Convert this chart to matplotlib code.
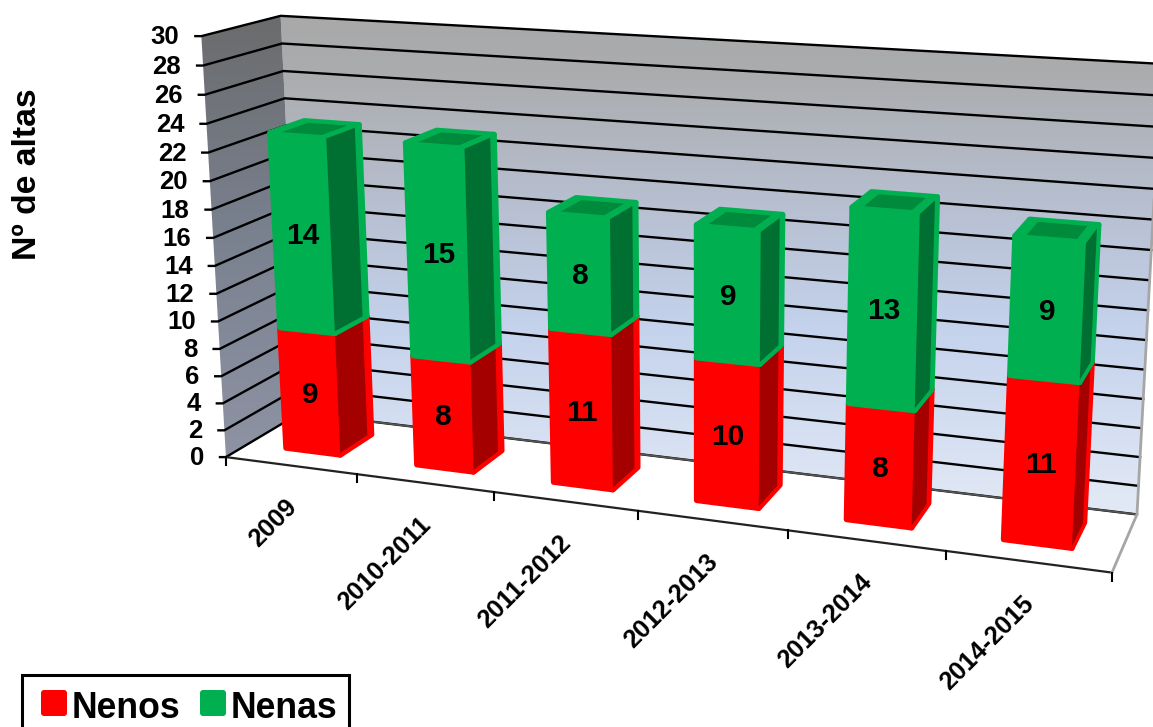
import numpy as np
import matplotlib
matplotlib.use("Agg")
import matplotlib.pyplot as plt
from matplotlib.colors import LinearSegmentedColormap
from matplotlib.patches import Polygon, FancyBboxPatch

plt.rcParams["font.family"] = ["Liberation Sans", "DejaVu Sans"]
plt.rcParams["font.weight"] = "bold"

categories = ["2009", "2010-2011", "2011-2012", "2012-2013", "2013-2014", "2014-2015"]
nenos = [9, 8, 11, 10, 8, 11]
nenas = [14, 15, 8, 9, 13, 9]
y_ticks = list(range(0, 31, 2))

RED, RED_DARK = "#ff0000", "#a50000"
GREEN, GREEN_DARK, GREEN_TOP = "#00b050", "#006f32", "#008a3c"

# box corners of the 3d chart in pixels: (category, depth, value) -> (px, py)
box_corners = [
    ((0, 0, 0), (226, 457)), ((0, 0, 30), (201, 36)),
    ((0, 1, 0), (300, 413)), ((0, 1, 30), (281, 16)),
    ((6, 1, 0), (1137, 515)), ((6, 1, 30), (1161, 63)),
    ((6, 0, 0), (1112, 572)), ((6, 0, 30), (1137, 92)),
]

# fit the perspective camera to those corners
A, b = [], []
for (X, Y, Z), (u, v) in box_corners:
    A.append([X, Y, Z, 1, 0, 0, 0, 0, -u * X, -u * Y, -u * Z])
    A.append([0, 0, 0, 0, X, Y, Z, 1, -v * X, -v * Y, -v * Z])
    b += [u, v]
cam = np.append(np.linalg.lstsq(np.array(A, float), np.array(b, float), rcond=None)[0], 1).reshape(3, 4)


def proj(x, d, v):
    p = cam @ np.array([x, d, v, 1.0])
    return p[0] / p[2], p[1] / p[2]


fig = plt.figure(figsize=(11.53, 7.27), dpi=100)
ax = fig.add_axes([0, 0, 1, 1])


def gradient(poly, stops):
    cmap = LinearSegmentedColormap.from_list("g", stops)
    im = ax.imshow(np.linspace(0, 1, 256).reshape(-1, 1), cmap=cmap, extent=(0, 1153, 727, 0),
                   aspect="auto", zorder=1)
    im.set_clip_path(Polygon(poly, transform=ax.transData))


# walls
back = [proj(0, 1, 0), proj(0, 1, 30), proj(6, 1, 30), proj(6, 1, 0)]
left = [proj(0, 0, 0), proj(0, 0, 30), proj(0, 1, 30), proj(0, 1, 0)]
gradient(back, [(0, "#a8a8a8"), (0.1, "#abacae"), (0.28, "#b7bfd0"), (0.45, "#c4d2ec"),
                (0.7, "#e2e9f6"), (1, "#eef2fa")])
gradient(left, [(0, "#6a6a6a"), (0.3, "#787f8d"), (0.65, "#8f95a5"), (1, "#a0a4ae")])

for v in y_ticks:
    a, c, e = proj(0, 0, v), proj(0, 1, v), proj(6, 1, v)
    ax.plot([a[0] - 6, a[0], c[0], e[0]], [a[1], a[1], c[1], e[1]], color="black", lw=1.7, zorder=2)
    ax.text(a[0] - 22, a[1] + 1, str(v), ha="right", va="center", fontsize=18.5, zorder=6)

# floor edges
ax.plot(*zip(proj(0, 0, 0), proj(6, 0, 0)), color="#222222", lw=1.6, zorder=2)
ax.plot(*zip(proj(0, 1, 0), proj(6, 1, 0)), color="#555555", lw=1.3, zorder=2)
ax.plot(*zip(proj(6, 0, 0), proj(6, 1, 0), proj(6, 1, 30)), color="#a6a6a6", lw=2, zorder=2)

for i in range(len(categories) + 1):
    px, py = proj(i, 0, 0)
    ax.plot([px, px], [py, py + 8], color="black", lw=1.5, zorder=2)

GAP, DEPTH0, DEPTH1 = 0.29, 0.3, 0.75


def segment(i, v0, v1, color, dark, top_col=None):
    x0, x1 = i + GAP, i + 1 - GAP
    z = 10 + i
    front = [proj(x0, DEPTH0, v0), proj(x1, DEPTH0, v0), proj(x1, DEPTH0, v1), proj(x0, DEPTH0, v1)]
    side = [proj(x1, DEPTH0, v0), proj(x1, DEPTH1, v0), proj(x1, DEPTH1, v1), proj(x1, DEPTH0, v1)]
    top = [proj(x0, DEPTH0, v1), proj(x1, DEPTH0, v1), proj(x1, DEPTH1, v1), proj(x0, DEPTH1, v1)]
    for face in (side, top, front):
        ax.add_patch(Polygon(face, fc=color, ec=color, lw=4, joinstyle="round", zorder=z))
    inner = [proj(x1, DEPTH0, v0 + 0.15), proj(x1, DEPTH1 - 0.06, v0 + 0.15),
             proj(x1, DEPTH1 - 0.06, v1 - 0.1), proj(x1, DEPTH0, v1 - 0.1)]
    ax.add_patch(Polygon(inner, fc=dark, ec="none", zorder=z))
    if top_col:
        dx = 0.06
        lid = [proj(x0 + dx, DEPTH0 + 0.05, v1), proj(x1 - dx, DEPTH0 + 0.05, v1),
               proj(x1 - dx, DEPTH1 - 0.05, v1), proj(x0 + dx, DEPTH1 - 0.05, v1)]
        ax.add_patch(Polygon(lid, fc=top_col, ec="none", zorder=z))
    cx = np.mean([p[0] for p in front])
    cy = np.mean([p[1] for p in front])
    return cx, cy


for i, (boys, girls) in enumerate(zip(nenos, nenas)):
    c1 = segment(i, 0, boys, RED, RED_DARK)
    c2 = segment(i, boys, boys + girls, GREEN, GREEN_DARK, GREEN_TOP)
    ax.text(c1[0], c1[1] + 4, str(boys), ha="center", va="center", fontsize=21.5, zorder=30)
    ax.text(c2[0], c2[1] + 3, str(girls), ha="center", va="center", fontsize=21.5, zorder=30)

for i, name in enumerate(categories):
    px, py = proj(i + 0.5, 0, 0)
    ax.text(px + 2, py + 38, name, rotation=45, ha="right", va="center", rotation_mode="anchor",
            fontsize=18.3, zorder=6)

ax.text(28, 174, "Nº de altas", rotation=90, ha="center", va="center", fontsize=24.3)

# legend, its lower edge runs off the picture
ax.add_patch(plt.Rectangle((22, 674.5), 327, 70, fc="white", ec="black", lw=2.2, zorder=6))
for x0, col, name in [(41, RED, "Nenos"), (200, GREEN, "Nenas")]:
    ax.add_patch(FancyBboxPatch((x0 + 3, 693), 20, 20, boxstyle="round,pad=3", fc=col, ec="none", zorder=7))
    ax.text(x0 + 31, 704, name, ha="left", va="center_baseline", fontsize=25.7, zorder=7)

ax.set_xlim(0, 1153)
ax.set_ylim(727, 0)
ax.axis("off")

fig.savefig("out.png", dpi=100)
